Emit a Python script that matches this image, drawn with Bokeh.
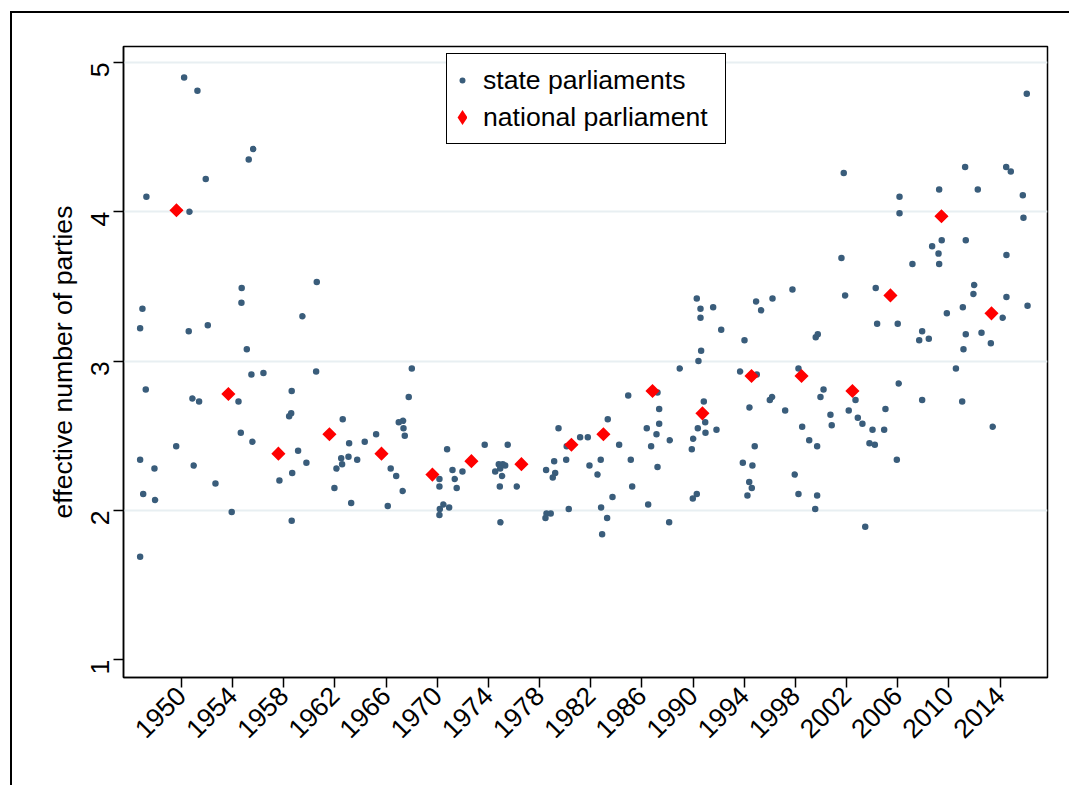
import math
from bokeh.plotting import figure
from bokeh.models import FixedTicker, Legend, LegendItem
from bokeh.embed import file_html
from bokeh.resources import INLINE

# ---- data ----
state_year = [
    1950.21, 1951.25, 1955.61, 1955.26, 1951.90, 1947.26, 1950.63, 1960.58, 1954.71, 1954.69,
    1946.95, 1959.46, 1946.77, 1950.57, 1952.06, 1955.11, 1960.53, 1947.21, 1955.47, 1956.41,
    1958.62, 1950.86, 1951.38, 1954.46, 1958.58, 1958.42, 1962.61, 1954.64, 1955.55, 1963.11,
    1949.59, 1959.12, 1946.77, 1962.49, 1963.06, 1963.74, 1947.89, 1950.96, 1959.77, 1962.56,
    1962.12, 1958.66, 1957.66, 1952.66, 1961.96, 1947.01, 1947.94, 1963.27, 1953.93, 1958.62,
    1946.77,
    1964.33, 1965.22, 1966.36, 1966.79, 1966.13, 1967.30, 1968.01, 1967.77, 1966.99, 1967.33,
    1967.36, 1967.46, 1970.17, 1970.17, 1970.77, 1971.19, 1971.37, 1971.52, 1971.97, 1970.48,
    1970.20, 1970.93, 1970.17, 1973.71, 1975.51, 1974.53, 1974.81, 1975.12, 1975.31, 1974.92,
    1975.07, 1974.89, 1974.94, 1976.22, 1978.51, 1979.14, 1979.48, 1979.22, 1979.03, 1980.08,
    1980.12, 1981.17, 1981.77, 1981.90, 1978.54, 1978.87, 1978.46, 1980.28,
    1990.29, 1990.58, 1990.58, 1991.57, 1992.20, 1994.93, 1996.21, 1995.32, 1997.77, 1994.02,
    1999.59, 1999.75, 1990.63, 1990.42, 1988.96, 1998.24, 1993.68, 1994.98, 1984.93, 1987.22,
    1990.84, 1996.00, 1996.18, 1999.96, 1983.33, 1987.35, 1994.41, 1997.20, 1987.35, 1986.38,
    1987.14, 1988.18, 1990.95, 1990.37, 1990.97, 1991.83, 1990.01, 1989.90, 1984.22, 1986.72,
    1994.82, 1998.53, 1999.08, 1999.70, 1982.78, 1982.53, 1985.13, 1987.22, 1993.89, 1994.64,
    1997.95, 1985.24, 1983.70, 1982.81, 1983.28, 1982.89, 1986.49, 1988.13, 1989.98, 1990.29,
    1994.39, 1994.59, 1994.25, 1998.24, 1999.70, 1999.55,
    2016.09, 2001.78, 2011.27, 2014.48, 2014.84, 2006.14, 2009.24, 2012.26, 2015.78, 2006.14,
    2015.83, 2009.44, 2008.69, 2011.32, 2009.19, 2014.50, 2001.60, 2007.15, 2009.24, 2011.98,
    2011.92, 2004.28, 2001.89, 2014.50, 2016.15, 2009.84, 2011.09, 2014.21, 2004.39, 2006.00,
    2007.91, 2007.68, 2008.43, 2011.32, 2012.55, 2013.28, 2011.14, 2010.55, 2006.08, 2000.20,
    2002.70, 2002.17, 2002.88, 2003.24, 2004.03, 2004.94, 2005.04, 2007.91, 2011.04, 2013.43,
    2000.74, 2000.84, 2003.79, 2004.21, 2005.93, 2003.46,
]
state_enp = [
    4.90, 4.81, 4.42, 4.35, 4.22, 4.10, 4.00, 3.53, 3.49, 3.39,
    3.35, 3.30, 3.22, 3.20, 3.24, 3.08, 2.93, 2.81, 2.91, 2.92,
    2.80, 2.75, 2.73, 2.73, 2.65, 2.63, 2.61, 2.52, 2.46, 2.45,
    2.43, 2.40, 2.34, 2.35, 2.36, 2.34, 2.28, 2.30, 2.32, 2.31,
    2.28, 2.25, 2.20, 2.18, 2.15, 2.11, 2.07, 2.05, 1.99, 1.93,
    1.69,
    2.46, 2.51, 2.28, 2.23, 2.03, 2.13, 2.95, 2.76, 2.59, 2.60,
    2.55, 2.50, 2.21, 2.16, 2.41, 2.27, 2.21, 2.15, 2.26, 2.04,
    2.01, 2.02, 1.97, 2.44, 2.44, 2.26, 2.31, 2.31, 2.30, 2.28,
    2.23, 2.16, 1.92, 2.16, 2.27, 2.33, 2.55, 2.25, 2.22, 2.34,
    2.43, 2.49, 2.49, 2.30, 1.98, 1.98, 1.95, 2.01,
    3.42, 3.35, 3.29, 3.36, 3.21, 3.40, 3.42, 3.34, 3.48, 3.14,
    3.16, 3.18, 3.07, 3.00, 2.95, 2.95, 2.93, 2.91, 2.77, 2.79,
    2.73, 2.74, 2.76, 2.76, 2.61, 2.68, 2.69, 2.67, 2.58, 2.55,
    2.51, 2.47, 2.59, 2.55, 2.52, 2.54, 2.48, 2.41, 2.44, 2.43,
    2.43, 2.56, 2.47, 2.43, 2.34, 2.24, 2.34, 2.29, 2.32, 2.30,
    2.24, 2.16, 2.09, 2.02, 1.95, 1.84, 2.04, 1.92, 2.08, 2.11,
    2.19, 2.15, 2.10, 2.11, 2.10, 2.01,
    4.79, 4.26, 4.30, 4.30, 4.27, 4.10, 4.15, 4.15, 4.11, 3.99,
    3.96, 3.81, 3.77, 3.81, 3.72, 3.71, 3.69, 3.65, 3.65, 3.51,
    3.45, 3.49, 3.44, 3.43, 3.37, 3.32, 3.36, 3.29, 3.25, 3.25,
    3.20, 3.14, 3.15, 3.18, 3.19, 3.12, 3.08, 2.95, 2.85, 2.81,
    2.74, 2.67, 2.62, 2.58, 2.54, 2.54, 2.68, 2.74, 2.73, 2.56,
    2.64, 2.57, 2.45, 2.44, 2.34, 1.89,
]
nat_year = [1949.61, 1953.67, 1957.58, 1961.57, 1965.64, 1969.62, 1972.67, 1976.58, 1980.49,
            1982.99, 1986.83, 1990.73, 1994.57, 1998.48, 2002.46, 2005.43, 2009.42, 2013.33]
nat_enp = [4.01, 2.78, 2.38, 2.51, 2.38, 2.24, 2.33, 2.31, 2.44,
           2.51, 2.80, 2.65, 2.90, 2.90, 2.80, 3.44, 3.97, 3.32]

y_ticks = [1, 2, 3, 4, 5]
grid_ticks = [2, 3, 4, 5]
x_ticks = list(range(1950, 2015, 4))
series_labels = ["state parliaments", "national parliament"]
y_title = "effective number of parties"

FONT = "Liberation Sans"
FS = "26.6px"
DOT = "#3a5d7b"
OX, OY = 12, 13            # page offset of the canvas (outer frame at 10/11 + 2px border)
W, H = 1071 - OX, 787 - OY

p = figure(width=W, height=H, output_backend="svg", toolbar_location=None,
           x_range=(1945.47, 2017.71), y_range=(0.881, 5.107),
           min_border_left=123 - OX, min_border_right=W - (1047 - OX),
           min_border_top=46 - OY, min_border_bottom=H - (677 - OY),
           background_fill_color="white", border_fill_color="white")
p.styles = {"border-left": "2px solid black", "border-top": "2px solid black",
            "margin-left": "10px", "margin-top": "11px"}

p.outline_line_color = "black"
p.outline_line_width = 1.5
p.outline_line_alpha = 1

p.xgrid.visible = False
p.ygrid.ticker = FixedTicker(ticks=grid_ticks)
p.ygrid.grid_line_color = "#e8eff2"
p.ygrid.grid_line_width = 2

for ax in (p.xaxis[0], p.yaxis[0]):
    ax.axis_line_color = "black"
    ax.axis_line_width = 1.5
    ax.major_tick_line_color = "black"
    ax.major_tick_line_width = 1.5
    ax.major_tick_out = 10
    ax.major_tick_in = 0
    ax.minor_tick_line_color = None
    ax.major_label_text_font = FONT
    ax.major_label_text_font_size = FS
    ax.major_label_text_color = "black"
    ax.axis_label_text_font = FONT
    ax.axis_label_text_font_size = FS
    ax.axis_label_text_font_style = "normal"
    ax.axis_label_text_color = "black"

p.xaxis.ticker = FixedTicker(ticks=x_ticks)
p.xaxis.major_label_orientation = math.pi / 4
p.xaxis.major_label_standoff = 4
p.yaxis.ticker = FixedTicker(ticks=y_ticks)
p.yaxis.major_label_orientation = math.pi / 2
p.yaxis.major_label_standoff = 13
p.yaxis.axis_label = y_title
p.yaxis.axis_label_standoff = 2

r1 = p.scatter(state_year, state_enp, marker="circle", size=4.5,
               fill_color=DOT, line_color=DOT, line_width=2)
r2 = p.scatter(nat_year, nat_enp, marker="square", size=6, angle=math.pi / 4,
               fill_color="red", line_color="red", line_width=4, line_join="miter")
# legend swatch for the national series (Bokeh draws legend markers unrotated,
# so a hidden diamond-marker renderer of the same data supplies the key)
r2_key = p.scatter(nat_year, nat_enp, marker="diamond", size=6,
                   fill_color="red", line_color="red", line_width=6, line_join="miter")
r2_key.visible = False

legend = Legend(items=[LegendItem(label=series_labels[0], renderers=[r1]),
                       LegendItem(label=series_labels[1], renderers=[r2_key])],
                location=(323, 533), padding=10, spacing=5, margin=0,
                glyph_width=10, glyph_height=32, label_height=32, label_width=232,
                label_standoff=16,
                border_line_color="black", border_line_width=1.5, border_line_alpha=1,
                background_fill_color="white", background_fill_alpha=1,
                label_text_font=FONT, label_text_font_size=FS, label_text_color="black")
p.add_layout(legend)

open("out.html", "w").write(file_html(p, INLINE))
